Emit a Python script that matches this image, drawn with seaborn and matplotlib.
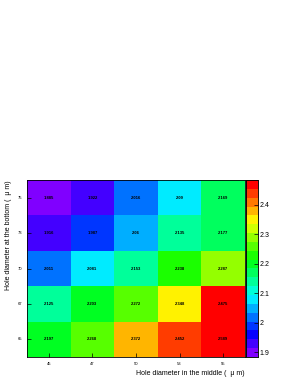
import numpy as np
import pandas as pd
import matplotlib
matplotlib.use("Agg")
import matplotlib.pyplot as plt
import matplotlib.colors as mcolors
import seaborn as sb

middle = ["45", "47", "50", "53", "55"]
bottom = ["75", "73", "70", "67", "65"]
vals_75 = [1.885, 1.922, 2.016, 2.09, 2.169]
vals_73 = [1.916, 1.987, 2.06, 2.135, 2.177]
vals_70 = [2.011, 2.081, 2.153, 2.238, 2.287]
vals_67 = [2.125, 2.203, 2.272, 2.348, 2.475]
vals_65 = [2.197, 2.268, 2.372, 2.452, 2.589]

df = pd.DataFrame([vals_75, vals_73, vals_70, vals_67, vals_65],
                  index=bottom, columns=middle)

# ROOT-like rainbow palette, 20 contour levels violet -> red
hues = np.linspace(0.75, 0.0, 20)
cols = [mcolors.hsv_to_rgb((h, 1.0, 1.0)) for h in hues]
cmap = mcolors.ListedColormap(cols)

plt.rcParams['font.family'] = ['Liberation Sans', 'DejaVu Sans']

fig = plt.figure(figsize=(2.93, 3.80), dpi=100)
ax = fig.add_axes([27/293, 1-357/380, 218/293, 177/380])
cax = fig.add_axes([246/293, 1-357/380, 12/293, 177/380])

sb.heatmap(df, cmap=cmap, vmin=1.883, vmax=2.485, annot=True, fmt="g",
           annot_kws={'fontsize': 3, 'color': 'black', 'fontweight': 'bold'},
           cbar_ax=cax, ax=ax, linewidths=0)

for s in ax.spines.values():
    s.set_visible(True)
    s.set_linewidth(0.6)
ax.tick_params(axis='both', direction='in', length=3, width=0.5, labelsize=3)
ax.tick_params(axis='y', labelrotation=0)
ax.set_xlabel('Hole diameter in the middle (  μ m)', fontsize=5, loc='right', labelpad=3)
ax.set_ylabel('Hole diameter at the bottom (  μ m)', fontsize=5, loc='top', labelpad=4)

cax.tick_params(direction='in', length=3, width=0.5, labelsize=5, pad=1)
cax.set_yticks([1.9, 2.0, 2.1, 2.2, 2.3, 2.4])
cax.set_yticklabels(['1.9', '2', '2.1', '2.2', '2.3', '2.4'])
for s in cax.spines.values():
    s.set_visible(True)
    s.set_linewidth(0.5)

fig.savefig("out.png", dpi=100)
